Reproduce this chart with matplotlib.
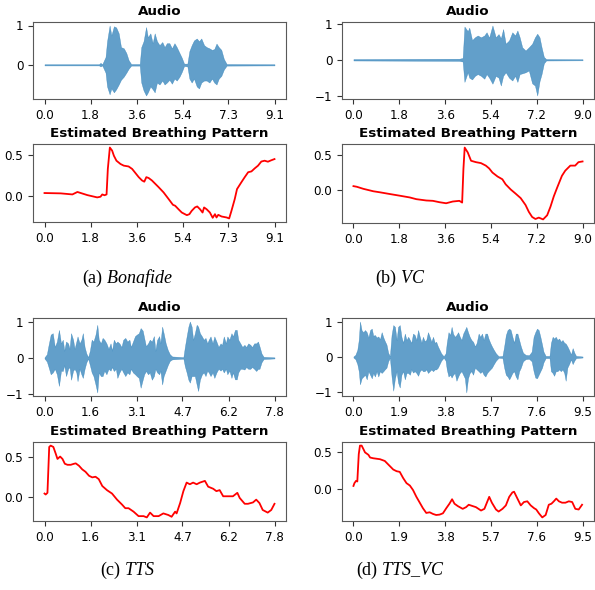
"""Audio waveform vs. estimated breathing pattern for four speech classes."""

import matplotlib
matplotlib.use("Agg")
import matplotlib.pyplot as plt
import numpy as np
from matplotlib.ticker import MultipleLocator

plt.rcParams["font.family"] = "DejaVu Sans"
plt.rcParams["mathtext.fontset"] = "custom"
plt.rcParams["mathtext.rm"] = "Liberation Serif"
plt.rcParams["mathtext.it"] = "Liberation Serif:italic"
plt.rcParams["axes.edgecolor"] = "0.35"

W, H = 595, 590
AUDIO_C = "tab:blue"
BREATH_C = "red"

# ---- (a) Bonafide -------------------------------------------------------
a_dur = 9.08
a_ticks = ["0.0", "1.8", "3.6", "5.4", "7.3", "9.1"]
a_audio_t = [0.0, 2.15, 2.21, 2.28, 2.41, 2.47, 2.57, 2.64, 2.74, 2.83, 2.93,
             3.02, 3.13, 3.23, 3.32, 3.42, 3.76, 3.82, 3.91, 4.01, 4.08, 4.18,
             4.27, 4.35, 4.44, 4.54, 4.65, 4.74, 4.83, 4.93, 5.03, 5.13, 5.22,
             5.33, 5.42, 5.51, 5.64, 5.72, 5.81, 5.90, 6.01, 6.10, 6.19, 6.30,
             6.40, 6.51, 6.61, 6.70, 6.79, 6.88, 6.98, 7.08, 7.19, 9.08]
a_audio_up = [.015, .015, .05, .015, .2, .6, 1.0, .75, .98, .95, .8,
              .45, .42, .3, .12, .02, .02, .45, .6, .96, .7, .8,
              .55, .8, .6, .5, .58, .45, .55, .55, .42, .55, .45,
              .3, .18, .03, .03, .35, .5, .62, .67, .6, .67, .5,
              .45, .42, .38, .4, .54, .45, .38, .15, .02, .015]
a_audio_lo = [-.015, -.015, -.04, -.015, -.2, -.55, -.75, -.6, -.7, -.62, -.5,
              -.38, -.3, -.2, -.1, -.02, -.02, -.45, -.65, -.78, -.7, -.55,
              -.62, -.7, -.45, -.5, -.4, -.5, -.45, -.38, -.48, -.35, -.4,
              -.3, -.18, -.03, -.04, -.35, -.45, -.35, -.55, -.6, -.45, -.4,
              -.4, -.45, -.35, -.45, -.5, -.35, -.28, -.12, -.02, -.015]
a_breath_t = [0.0, 0.64, 1.10, 1.30, 1.69, 2.08, 2.21, 2.28, 2.37, 2.45, 2.50,
              2.58, 2.67, 2.74, 2.84, 3.00, 3.13, 3.32, 3.46, 3.59, 3.72, 3.85,
              3.94, 4.02, 4.11, 4.24, 4.37, 4.50, 4.70, 4.90, 5.07, 5.16, 5.29,
              5.42, 5.62, 5.72, 5.81, 5.94, 6.03, 6.14, 6.24, 6.30, 6.40, 6.53,
              6.64, 6.73, 6.79, 6.86, 6.99, 7.19, 7.29, 7.38, 7.51, 7.60, 7.77,
              7.90, 8.04, 8.17, 8.30, 8.43, 8.56, 8.69, 8.82, 8.95, 9.08]
a_breath_v = [0.037, 0.033, 0.02, 0.05, 0.012, -0.016, -0.008, 0.02, 0.01,
              0.02, 0.33, 0.59, 0.553, 0.49, 0.43, 0.39, 0.37, 0.36, 0.33,
              0.28, 0.23, 0.19, 0.175, 0.23, 0.22, 0.19, 0.15, 0.11, 0.045,
              -0.036, -0.106, -0.118, -0.16, -0.2, -0.232, -0.22, -0.18,
              -0.138, -0.126, -0.16, -0.2, -0.138, -0.16, -0.2, -0.264, -0.22,
              -0.26, -0.228, -0.248, -0.26, -0.272, -0.18, -0.037, 0.085,
              0.167, 0.228, 0.29, 0.3, 0.337, 0.37, 0.42, 0.43, 0.418, 0.435,
              0.45]

# ---- (b) VC -------------------------------------------------------------
b_dur = 9.0
b_ticks = ["0.0", "1.8", "3.6", "5.4", "7.2", "9.0"]
b_audio_t = [0.0, 4.16, 4.29, 4.36, 4.49, 4.55, 4.66, 4.77, 4.88, 5.01, 5.14,
             5.23, 5.33, 5.46, 5.59, 5.70, 5.79, 5.88, 5.98, 6.11, 6.24, 6.35,
             6.44, 6.53, 6.63, 6.76, 6.89, 7.02, 7.13, 7.22, 7.31, 7.39, 7.48,
             7.57, 9.0]
b_audio_up = [.02, .03, .05, .93, .8, .9, .55, .63, .68, .63, .68,
              .77, .62, .96, .63, .72, .6, .86, .45, .54, .77, .68,
              .82, .63, .35, .26, .35, .45, .63, .73, .63, .35, .08,
              .02, .015]
b_audio_lo = [-.02, -.03, -.05, -.62, -.35, -.5, -.55, -.45, -.4, -.45, -.53,
              -.4, -.5, -.67, -.45, -.5, -.72, -.45, -.35, -.5, -.58, -.45,
              -.62, -.4, -.38, -.35, -.3, -.66, -.72, -1.0, -.6, -.4, -.1,
              -.02, -.015]
b_breath_t = [0.0, 0.13, 0.39, 0.78, 1.04, 1.43, 1.82, 2.21, 2.47, 2.86, 3.12,
              3.38, 3.64, 3.90, 4.16, 4.27, 4.32, 4.37, 4.49, 4.62, 4.81, 5.01,
              5.20, 5.33, 5.46, 5.66, 5.85, 5.98, 6.18, 6.37, 6.57, 6.76, 6.89,
              7.02, 7.15, 7.28, 7.45, 7.61, 7.74, 7.87, 8.00, 8.19, 8.32, 8.52,
              8.71, 8.84, 9.00]
b_breath_v = [0.054, 0.045, 0.015, -0.02, -0.035, -0.06, -0.084, -0.109,
              -0.134, -0.153, -0.158, -0.178, -0.193, -0.168, -0.158, -0.183,
              0.3, 0.61, 0.54, 0.42, 0.40, 0.386, 0.35, 0.31, 0.25, 0.193,
              0.153, 0.08, 0.005, -0.054, -0.119, -0.218, -0.317, -0.391,
              -0.42, -0.4, -0.426, -0.366, -0.243, -0.094, 0.03, 0.203, 0.277,
              0.35, 0.35, 0.40, 0.41]

# ---- (c) TTS ------------------------------------------------------------
c_dur = 7.8
c_ticks = ["0.0", "1.6", "3.1", "4.7", "6.2", "7.8"]
c_audio_t = [0.0, 0.08, 0.13, 0.21, 0.28, 0.35, 0.42, 0.49, 0.56, 0.62, 0.67,
             0.73, 0.80, 0.85, 0.90, 0.97, 1.02, 1.08, 1.12, 1.19, 1.25, 1.30,
             1.36, 1.42, 1.48, 1.54, 1.60, 1.66, 1.73, 1.79, 1.84, 1.91, 1.97,
             2.03, 2.10, 2.17, 2.24, 2.29, 2.35, 2.42, 2.47, 2.54, 2.61, 2.67,
             2.74, 2.81, 2.88, 2.93, 3.00, 3.07, 3.13, 3.20, 3.26, 3.33, 3.38,
             3.44, 3.51, 3.57, 3.64, 3.71, 3.76, 3.82, 3.89, 3.93, 3.99, 4.04,
             4.11, 4.18, 4.25, 4.33, 4.71, 4.76, 4.82, 4.88, 4.93, 4.99, 5.04,
             5.10, 5.16, 5.21, 5.27, 5.34, 5.40, 5.46, 5.52, 5.57, 5.63, 5.70,
             5.76, 5.83, 5.90, 5.97, 6.02, 6.08, 6.15, 6.20, 6.27, 6.34, 6.39,
             6.46, 6.52, 6.57, 6.64, 6.71, 6.78, 6.84, 6.91, 6.98, 7.04, 7.11,
             7.18, 7.24, 7.29, 7.36, 7.43, 7.80]
c_audio_up = [.015, .1, .32, .64, .68, .3, .45, .77, .4, .5, .2,
              .45, .4, .25, .68, .5, .25, .45, .59, .4, .5, .68,
              .3, .12, .02, .2, .5, .45, .64, .91, .5, .4, .55,
              .5, .4, .25, .4, .2, .5, .4, .45, .4, .3, .5,
              .55, .45, .5, .3, .45, .6, .64, .68, .82, .75, .55,
              .32, .4, .5, .45, .6, .2, .5, .6, .4, .86, .68,
              .4, .22, .1, .04, .02, .3, .59, .86, 1.0, .86, .5,
              .68, .91, .86, .68, .59, .5, .55, .4, .5, .59, .4,
              .59, .45, .3, .4, .35, .59, .4, .59, .5, .68, .59,
              .77, .77, .5, .4, .3, .36, .3, .4, .36, .3, .4,
              .4, .45, .32, .12, .03, .015]
c_audio_lo = [-.015, -.1, -.23, -.45, -.4, -.3, -.45, -.77, -.35, -.36, -.2,
              -.5, -.3, -.25, -.6, -.35, -.3, -.4, -.64, -.3, -.45, -.55,
              -.3, -.12, -.02, -.2, -.4, -.5, -.73, -.95, -.4, -.5, -.5,
              -.35, -.45, -.3, -.35, -.25, -.36, -.3, -.55, -.4, -.3, -.4,
              -.5, -.4, -.45, -.3, -.4, -.45, -.5, -.55, -.82, -.6, -.45,
              -.36, -.45, -.4, -.6, -.5, -.3, -.4, -.45, -.35, -.73, -.5,
              -.35, -.2, -.08, -.04, -.02, -.23, -.4, -.6, -.68, -.5, -.5,
              -.5, -.73, -.91, -.6, -.45, -.4, -.5, -.35, -.4, -.5, -.4,
              -.55, -.4, -.3, -.35, -.3, -.4, -.3, -.45, -.35, -.55, -.4,
              -.59, -.59, -.4, -.3, -.3, -.32, -.25, -.3, -.3, -.25, -.3,
              -.36, -.3, -.3, -.12, -.03, -.015]
c_breath_t = [0.00, 0.04, 0.10, 0.16, 0.21, 0.30, 0.38, 0.44, 0.53, 0.61, 0.69,
              0.78, 0.89, 1.00, 1.06, 1.17, 1.28, 1.39, 1.51, 1.62, 1.73, 1.84,
              1.96, 2.12, 2.29, 2.46, 2.63, 2.74, 2.85, 3.02, 3.19, 3.36, 3.47,
              3.58, 3.70, 3.87, 4.03, 4.20, 4.31, 4.43, 4.48, 4.60, 4.71, 4.82,
              4.93, 5.04, 5.16, 5.27, 5.44, 5.55, 5.72, 5.83, 5.94, 6.06, 6.28,
              6.39, 6.54, 6.62, 6.79, 6.90, 7.07, 7.18, 7.29, 7.40, 7.57, 7.69,
              7.80]
c_breath_v = [0.038, 0.026, 0.047, 0.62, 0.637, 0.62, 0.537, 0.47, 0.5, 0.47,
              0.41, 0.397, 0.397, 0.41, 0.415, 0.385, 0.34, 0.31, 0.26, 0.24,
              0.248, 0.218, 0.132, 0.08, 0.038, -0.038, -0.1, -0.145, -0.145,
              -0.188, -0.244, -0.244, -0.26, -0.2, -0.244, -0.244, -0.21,
              -0.23, -0.252, -0.188, -0.21, -0.08, 0.068, 0.175, 0.154, 0.175,
              0.154, 0.175, 0.196, 0.124, 0.098, 0.068, 0.081, 0.004, 0.004,
              0.004, 0.047, -0.017, -0.09, -0.09, -0.073, -0.038, -0.081,
              -0.167, -0.2, -0.167, -0.09]

# ---- (d) TTS_VC ---------------------------------------------------------
d_dur = 9.5
d_ticks = ["0.0", "1.9", "3.8", "5.7", "7.6", "9.5"]
d_audio_t = [0.0, 0.08, 0.16, 0.22, 0.27, 0.34, 0.41, 0.48, 0.55, 0.62, 0.69,
             0.76, 0.82, 0.89, 0.96, 1.03, 1.10, 1.17, 1.24, 1.30, 1.37, 1.44,
             1.51, 1.58, 1.65, 1.72, 1.79, 1.85, 1.92, 1.99, 2.06, 2.13, 2.20,
             2.27, 2.34, 2.40, 2.47, 2.54, 2.61, 2.68, 2.75, 2.82, 2.88, 2.95,
             3.02, 3.09, 3.16, 3.23, 3.30, 3.37, 3.43, 3.50, 3.57, 3.64, 3.74,
             3.82, 3.87, 3.94, 4.01, 4.07, 4.13, 4.20, 4.27, 4.34, 4.41, 4.48,
             4.55, 4.62, 4.68, 4.75, 4.82, 4.89, 4.96, 5.04, 5.11, 5.19, 5.26,
             5.33, 5.40, 5.47, 5.54, 5.60, 5.67, 5.74, 5.82, 5.91, 6.02, 6.18,
             6.25, 6.32, 6.39, 6.46, 6.52, 6.59, 6.66, 6.73, 6.80, 6.87, 6.94,
             7.03, 7.14, 7.28, 7.39, 7.47, 7.54, 7.61, 7.68, 7.75, 7.82, 7.88,
             7.97, 8.13, 8.19, 8.26, 8.32, 8.39, 8.46, 8.53, 8.60, 8.67, 8.74,
             8.80, 8.87, 8.94, 9.02, 9.09, 9.16, 9.23, 9.50]
d_audio_up = [.015, .06, .2, .48, 1.0, .75, .7, .76, .7, .55, .76,
              .8, .6, .62, .55, .58, .5, .7, .55, .45, .35, .12,
              .02, .62, .9, .85, .48, .85, .9, .57, .4, .66, .48,
              .57, .48, .4, .66, .62, .48, .76, .57, .4, .57, .45,
              .48, .7, .57, .43, .57, .4, .43, .3, .2, .1, .02,
              .1, .4, .7, .62, .85, .66, .57, .62, .7, .57, .48,
              .66, .76, .85, .7, .57, .48, .43, .3, .4, .66, .57,
              .66, .48, .66, .66, .52, .4, .3, .2, .1, .02, .03,
              .3, .62, .76, .8, .76, .57, .4, .66, .66, .48, .3,
              .12, .06, .05, .15, .57, .7, .8, .76, .57, .35, .15,
              .03, .03, .4, .57, .52, .57, .48, .52, .43, .48, .4,
              .38, .3, .2, .07, .25, .12, .03, .015]
d_audio_lo = [-.015, -.06, -.2, -.4, -.77, -.6, -.55, -.5, -.63, -.4, -.5,
              -.6, -.45, -.55, -.4, -.55, -.4, -.45, -.4, -.35, -.3, -.12,
              -.02, -.55, -.95, -.6, -.4, -.72, -.86, -.5, -.4, -.63, -.45,
              -.45, -.5, -.35, -.44, -.4, -.45, -.53, -.4, -.35, -.4, -.4,
              -.35, -.45, -.4, -.35, -.4, -.35, -.35, -.3, -.2, -.1, -.02,
              -.1, -.35, -.55, -.5, -.58, -.5, -.45, -.67, -.55, -.45, -.4,
              -.5, -.6, -1.0, -.6, -.45, -.4, -.5, -.3, -.35, -.4, -.45,
              -.4, -.5, -.55, -.45, -.4, -.35, -.3, -.2, -.1, -.02, -.03,
              -.3, -.5, -.55, -.63, -.55, -.45, -.4, -.55, -.63, -.4, -.3,
              -.12, -.06, -.05, -.12, -.4, -.58, -.6, -.5, -.4, -.3, -.15,
              -.03, -.03, -.4, -.45, -.53, -.4, -.4, -.35, -.4, -.35, -.45,
              -.67, -.3, -.2, -.07, -.2, -.1, -.03, -.015]
d_breath_t = [0.00, 0.04, 0.11, 0.16, 0.22, 0.27, 0.34, 0.41, 0.48, 0.62, 0.69,
              0.82, 1.10, 1.30, 1.44, 1.65, 1.79, 1.92, 2.06, 2.20, 2.34, 2.47,
              2.61, 2.75, 2.88, 3.02, 3.16, 3.30, 3.43, 3.57, 3.71, 3.85, 3.98,
              4.09, 4.19, 4.33, 4.53, 4.67, 4.78, 4.95, 5.08, 5.29, 5.43, 5.56,
              5.63, 5.74, 5.91, 6.02, 6.18, 6.32, 6.46, 6.59, 6.66, 6.80, 6.94,
              7.07, 7.21, 7.35, 7.49, 7.58, 7.69, 7.83, 7.97, 8.10, 8.21, 8.31,
              8.41, 8.52, 8.65, 8.79, 8.93, 9.07, 9.20, 9.34, 9.48]
d_breath_v = [0.042, 0.08, 0.112, 0.103, 0.476, 0.593, 0.593, 0.547, 0.5,
              0.467, 0.43, 0.42, 0.407, 0.383, 0.336, 0.266, 0.243, 0.234,
              0.15, 0.08, 0.047, -0.014, -0.107, -0.187, -0.262, -0.327,
              -0.318, -0.341, -0.355, -0.35, -0.332, -0.262, -0.201, -0.14,
              -0.201, -0.234, -0.271, -0.248, -0.215, -0.234, -0.248, -0.294,
              -0.271, -0.164, -0.107, -0.187, -0.28, -0.308, -0.271, -0.224,
              -0.107, -0.047, -0.037, -0.131, -0.224, -0.178, -0.168, -0.224,
              -0.262, -0.28, -0.332, -0.388, -0.355, -0.215, -0.201, -0.168,
              -0.131, -0.168, -0.187, -0.187, -0.168, -0.178, -0.271, -0.28,
              -0.215]

# panel label, caption name, data bundle, pixel boxes (left, top, right, bottom)
PANELS = [
    ("(a)", "Bonafide", a_dur, a_ticks, a_audio_t, a_audio_up, a_audio_lo,
     a_breath_t, a_breath_v, (33, 22, 286, 99), (33, 144, 286, 222), (128, 278)),
    ("(b)", "VC", b_dur, b_ticks, b_audio_t, b_audio_up, b_audio_lo,
     b_breath_t, b_breath_v, (342, 22, 594, 99), (342, 144, 594, 223), (400, 278)),
    ("(c)", "TTS", c_dur, c_ticks, c_audio_t, c_audio_up, c_audio_lo,
     c_breath_t, c_breath_v, (33, 318, 286, 396), (33, 442, 286, 521), (128, 570)),
    ("(d)", r"TTS\_VC", d_dur, d_ticks, d_audio_t, d_audio_up, d_audio_lo,
     d_breath_t, d_breath_v, (342, 318, 594, 396), (342, 442, 594, 521), (400, 570)),
]


def _rect(box):
    l, t, r, b = box
    return [l / W, 1 - b / H, (r - l) / W, (b - t) / H]


def _style(ax, dur, labels, title, step):
    ax.set_xlim(-0.05 * dur, 1.05 * dur)
    ax.set_xticks(np.linspace(0, dur, len(labels)), labels=labels)
    ax.yaxis.set_major_locator(MultipleLocator(step))
    ax.tick_params(labelsize=8.6, length=3.5, width=0.8, color="0.2")
    ax.set_title(title, fontsize=9.7, fontweight="bold", pad=5)


fig = plt.figure(figsize=(W / 100, H / 100), dpi=100)

for tag, name, dur, ticks, at, aup, alo, bt, bv, abox, bbox, cap in PANELS:
    ax1 = fig.add_axes(_rect(abox))
    ax1.fill_between(at, alo, aup, color=AUDIO_C, alpha=0.7, lw=0.3)
    _style(ax1, dur, ticks, "Audio", 1)

    ax2 = fig.add_axes(_rect(bbox))
    ax2.plot(bt, bv, color=BREATH_C, lw=1.3)
    _style(ax2, dur, ticks, "Estimated Breathing Pattern", 0.5)

    fig.text(cap[0] / W, 1 - cap[1] / H, f"{tag} $\\mathit{{{name}}}$",
             family="Liberation Serif", fontsize=13, ha="center", va="center")

fig.savefig("out.png", dpi=100)
